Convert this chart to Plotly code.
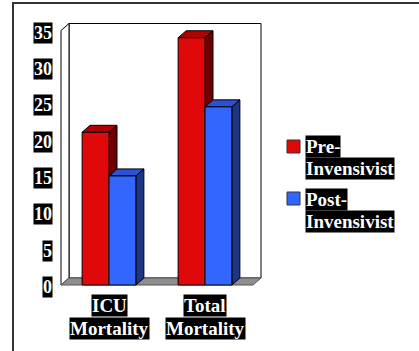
import plotly.graph_objects as go

# ---- data -------------------------------------------------------------
category_lines = [["ICU", "Mortality"], ["Total", "Mortality"]]
series_lines = [["Pre-", "Invensivist"], ["Post-", "Invensivist"]]
pre_values = [21, 34]
post_values = [15, 24.5]
y_ticks = [0, 5, 10, 15, 20, 25, 30, 35]

# ---- styling ------------------------------------------------------------
W, H = 419, 351
L, R, T, B = 55, 150, 18, 60
PW, PH = W - L - R, H - T - B

PX_PER_X = 96.0           # pixels per category unit
PX_PER_Y = 7.2714         # pixels per value unit
X_FRONT_LEFT_PX = 61      # pixel x of the front-left edge of the plot box
Y_ZERO_PX = 285           # pixel y of the front zero line
DEPTH_PX = (8, 7)         # 3D depth offset (right, up) in pixels

x_lo = -0.5 - (X_FRONT_LEFT_PX - L) / PX_PER_X
x_hi = x_lo + PW / PX_PER_X
y_lo = -((H - B) - Y_ZERO_PX) / PX_PER_Y
y_hi = y_lo + PH / PX_PER_Y
DX = DEPTH_PX[0] / PX_PER_X
DY = DEPTH_PX[1] / PX_PER_Y
Y_MAX = 35
BAR_W = 0.28

FONT = "Liberation Serif"
colors = {
    "pre": ("#E00808", "#B00000", "#6E0000"),
    "post": ("#3366FF", "#2A52D6", "#1C3585"),
}


def px2paper_x(px):
    return (px - L) / PW


def px2paper_y(py):
    return (H - B - py) / PH


def poly(points):
    return "M " + " L ".join(f"{x},{y}" for x, y in points) + " Z"


shapes = []

# outer frame
shapes.append(dict(type="rect", xref="paper", yref="paper",
                   x0=px2paper_x(13), y0=px2paper_y(400),
                   x1=px2paper_x(460), y1=px2paper_y(3),
                   line=dict(color="#333333", width=2), fillcolor="rgba(0,0,0,0)",
                   layer="below"))

# back wall
shapes.append(dict(type="path", xref="x", yref="y", layer="below",
                   path=poly([(-0.5 + DX, DY), (1.5 + DX, DY),
                              (1.5 + DX, Y_MAX + DY), (-0.5 + DX, Y_MAX + DY)]),
                   fillcolor="white", line=dict(color="black", width=1)))
# left wall
shapes.append(dict(type="path", xref="x", yref="y", layer="below",
                   path=poly([(-0.5, 0), (-0.5 + DX, DY),
                              (-0.5 + DX, Y_MAX + DY), (-0.5, Y_MAX)]),
                   fillcolor="white", line=dict(color="black", width=1)))
# floor
shapes.append(dict(type="path", xref="x", yref="y", layer="below",
                   path=poly([(-0.5, 0), (1.5, 0), (1.5 + DX, DY), (-0.5 + DX, DY)]),
                   fillcolor="#8E8E8E", line=dict(color="#555555", width=1)))

fig = go.Figure()

# top and side faces of every bar, drawn beneath the bar fronts
for key, values, offset in (("pre", pre_values, -BAR_W), ("post", post_values, 0.0)):
    front, top, side = colors[key]
    for i, v in enumerate(values):
        x0 = i + offset
        x1 = x0 + BAR_W
        shapes.append(dict(type="path", xref="x", yref="y", layer="below",
                           path=poly([(x0, v), (x0 + DX, v + DY), (x1 + DX, v + DY), (x1, v)]),
                           fillcolor=top, line=dict(color="black", width=1)))
        shapes.append(dict(type="path", xref="x", yref="y", layer="below",
                           path=poly([(x1, 0), (x1, v), (x1 + DX, v + DY), (x1 + DX, DY)]),
                           fillcolor=side, line=dict(color="black", width=1)))
    fig.add_trace(go.Bar(
        x=list(range(len(values))), y=values, width=BAR_W, offset=offset,
        marker=dict(color=front, line=dict(color="black", width=1)),
        hoverinfo="skip", showlegend=False,
    ))

annotations = []


def label(text, size, **kw):
    d = dict(text=f"<b>{text}</b>", showarrow=False, bgcolor="black", borderpad=0,
             font=dict(family=FONT, size=size, color="white"))
    d.update(kw)
    annotations.append(d)


# value axis labels
for t in y_ticks:
    label(str(t), 18, xref="paper", yref="y", x=px2paper_x(53), y=t,
          xanchor="right", yanchor="middle", yshift=-2)

# category labels, one box per line
for i, lines in enumerate(category_lines):
    for j, line in enumerate(lines):
        label(line, 19, xref="x", yref="paper", x=i,
              y=px2paper_y(305.5 + 23 * j), xanchor="center", yanchor="middle")

# legend
legend_rows = [(146.5, 140), (199, 192)]
for (name_lines, key), (text_y, sq_top) in zip(zip(series_lines, ("pre", "post")), legend_rows):
    shapes.append(dict(type="rect", xref="paper", yref="paper",
                       x0=px2paper_x(287), x1=px2paper_x(300),
                       y0=px2paper_y(sq_top + 13), y1=px2paper_y(sq_top),
                       fillcolor=colors[key][0], line=dict(color="#333333", width=1)))
    for j, line in enumerate(name_lines):
        label(line, 19, xref="paper", yref="paper", x=px2paper_x(305),
              y=px2paper_y(text_y + 22 * j), xanchor="left", yanchor="middle")

fig.update_layout(
    width=W, height=H,
    margin=dict(l=L, r=R, t=T, b=B),
    paper_bgcolor="white", plot_bgcolor="white",
    barmode="overlay",
    xaxis=dict(range=[x_lo, x_hi], visible=False, fixedrange=True),
    yaxis=dict(range=[y_lo, y_hi], visible=False, fixedrange=True),
    shapes=shapes, annotations=annotations,
    showlegend=False,
)

fig.write_html("out.html", config={"displayModeBar": False})
